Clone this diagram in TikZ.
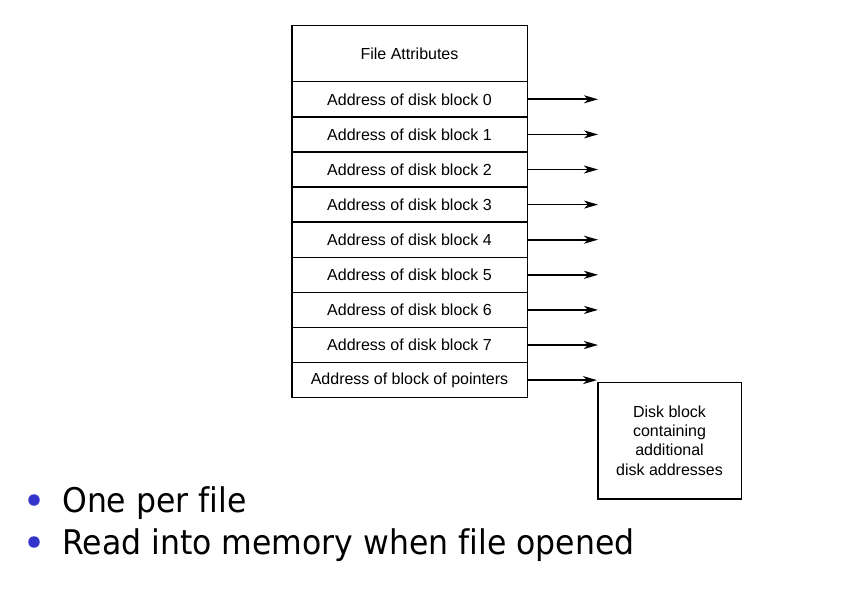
\documentclass[tikz,border=0pt]{standalone}
\usepackage{fontspec}
\setmainfont{Liberation Sans}
\newfontfamily\bulletfont[Ligatures=NoCommon]{DejaVu Sans}
\usetikzlibrary{arrows.meta}
\definecolor{bulletblue}{RGB}{52,52,204}
\begin{document}
\begin{tikzpicture}[x=1pt,y=-1pt,
  cell/.style={draw=black,line width=1.5pt,minimum width=235.5pt,minimum height=35.1pt,inner sep=0pt,font=\fontsize{16}{19}\selectfont,anchor=north west},
  ptr/.style={-{Stealth[length=14pt,width=8pt,inset=4pt]},line width=1.7pt},
  bul/.style={circle,fill=bulletblue,inner sep=0pt,minimum size=11.5pt},
  btext/.style={anchor=base west,inner sep=0pt,font=\bulletfont\fontsize{34}{40}\selectfont}]
\useasboundingbox (0,0) rectangle (858,591);
\node[cell,minimum height=56pt] (fa) at (291,25) {File Attributes};
\node[cell] (a0) at (291,81) {Address of disk block 0};
\node[cell] (a1) at (291,116.1) {Address of disk block 1};
\node[cell] (a2) at (291,151.2) {Address of disk block 2};
\node[cell] (a3) at (291,186.3) {Address of disk block 3};
\node[cell] (a4) at (291,221.4) {Address of disk block 4};
\node[cell] (a5) at (291,256.5) {Address of disk block 5};
\node[cell] (a6) at (291,291.6) {Address of disk block 6};
\node[cell] (a7) at (291,326.7) {Address of disk block 7};
\node[cell] (p8) at (291,361.8) {Address of block of pointers};
\foreach \i in {0,...,7}{
  \coordinate (e\i) at ([xshift=70pt]a\i.east);
  \draw[ptr] (a\i.east) -- (e\i);
}
\node[draw=black,line width=1.5pt,minimum width=143.5pt,minimum height=116.5pt,anchor=north west,inner sep=0pt,align=center,font=\fontsize{16}{19.2}\selectfont] (blk) at (597,381.5) {Disk block\\containing\\additional\\disk addresses};
\draw[ptr] (p8.east) -- (p8.east -| blk.west);
\node[bul] (b1) at (34,500) {};
\node[btext] (t1) at (62,512) {\scalebox{0.927}[1]{One per file}};
\node[bul] (b2) at (34,542) {};
\node[btext] (t2) at (62,554) {\scalebox{0.927}[1]{Read into memory when file opened}};
\end{tikzpicture}
\end{document}
